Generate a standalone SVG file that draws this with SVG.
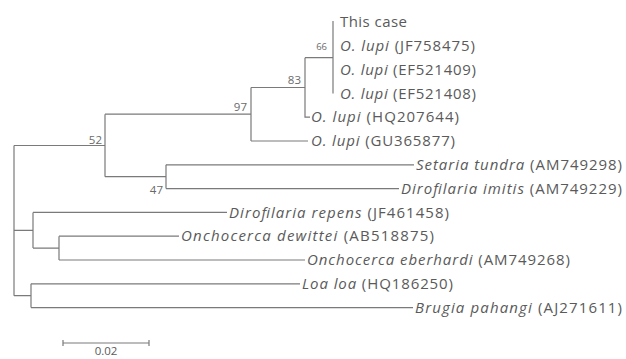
<svg xmlns="http://www.w3.org/2000/svg" width="626" height="359" viewBox="0 0 626 359">
  <style>
    .br { fill: none; stroke: #7a7a7a; stroke-width: 1.2; }
    .tip { font-family: "Open Sans", "Liberation Sans", Arial, sans-serif; font-size: 15px; fill: #5a5a5a; }
    .sp { font-style: italic; }
    .bs { font-family: "Open Sans", "Liberation Sans", Arial, sans-serif; font-size: 11.5px; fill: #6a6a6a; text-anchor: end; }
    .sc { font-family: "Open Sans", "Liberation Sans", Arial, sans-serif; font-size: 11.5px; fill: #5a5a5a; text-anchor: middle; }
  </style>

  <!-- tree branches (rectangular cladogram) -->
  <g id="connectors" class="br">
    <!-- root -->
    <path d="M14,145.5 V295.7"/>
    <!-- node 52 -->
    <path d="M14,145.5 H105 M105,114.2 V176.7"/>
    <!-- node 97 -->
    <path d="M105,114.2 H251 M251,87.5 V141"/>
    <!-- node 83 -->
    <path d="M251,87.5 H305 M305,57.7 V117.2 H310"/>
    <!-- node 66 -->
    <path d="M305,57.7 H333 M333,21 V93.4"/>
    <!-- GU365877 -->
    <path d="M251,141 H308"/>
    <!-- node 47 -->
    <path d="M105,176.7 H166 M166,164.8 V188.6"/>
    <path d="M166,164.8 H414"/>
    <path d="M166,188.6 H399"/>
    <!-- Dirofilaria repens / Onchocerca clade -->
    <path d="M14,230.3 H33 M33,212.4 V248.1"/>
    <path d="M33,212.4 H227"/>
    <path d="M33,248.1 H59 M59,236.2 V260"/>
    <path d="M59,236.2 H179"/>
    <path d="M59,260 H305"/>
    <!-- Loa / Brugia clade -->
    <path d="M14,295.7 H31 M31,283.8 V307.6"/>
    <path d="M31,283.8 H300"/>
    <path d="M31,307.6 H413"/>
  </g>

  <!-- bootstrap values -->
  <g id="bootstrap">
    <text class="bs" x="327" y="50" style="font-size:9.5px">66</text>
    <text class="bs" x="301" y="84">83</text>
    <text class="bs" x="247" y="111">97</text>
    <text class="bs" x="102" y="144">52</text>
    <text class="bs" x="163" y="194">47</text>
  </g>

  <!-- taxa -->
  <g id="tip-this-case"><text class="tip" x="340" y="27" textLength="67">This case</text></g>
  <g id="tip-JF758475"><text class="tip" x="340" y="51" textLength="135"><tspan class="sp">O. lupi</tspan> (JF758475)</text></g>
  <g id="tip-EF521409"><text class="tip" x="340" y="74.5" textLength="136"><tspan class="sp">O. lupi</tspan> (EF521409)</text></g>
  <g id="tip-EF521408"><text class="tip" x="340" y="98.5" textLength="136"><tspan class="sp">O. lupi</tspan> (EF521408)</text></g>
  <g id="tip-HQ207644"><text class="tip" x="311" y="122" textLength="148"><tspan class="sp">O. lupi</tspan> (HQ207644)</text></g>
  <g id="tip-GU365877"><text class="tip" x="311" y="146" textLength="144"><tspan class="sp">O. lupi</tspan> (GU365877)</text></g>
  <g id="tip-AM749298"><text class="tip" x="416" y="170" textLength="206"><tspan class="sp">Setaria tundra</tspan> (AM749298)</text></g>
  <g id="tip-AM749229"><text class="tip" x="401" y="193.5" textLength="221"><tspan class="sp">Dirofilaria imitis</tspan> (AM749229)</text></g>
  <g id="tip-JF461458"><text class="tip" x="229" y="217.5" textLength="220"><tspan class="sp">Dirofilaria repens</tspan> (JF461458)</text></g>
  <g id="tip-AB518875"><text class="tip" x="181" y="241" textLength="253"><tspan class="sp">Onchocerca dewittei</tspan> (AB518875)</text></g>
  <g id="tip-AM749268"><text class="tip" x="307" y="265" textLength="263"><tspan class="sp">Onchocerca eberhardi</tspan> (AM749268)</text></g>
  <g id="tip-HQ186250"><text class="tip" x="302" y="288.5" textLength="151"><tspan class="sp">Loa loa</tspan> (HQ186250)</text></g>
  <g id="tip-AJ271611"><text class="tip" x="415" y="312.5" textLength="207"><tspan class="sp">Brugia pahangi</tspan> (AJ271611)</text></g>

  <!-- scale bar -->
  <g id="scale-bar">
    <path class="br" d="M63,343 H149 M63,340 V346 M149,340 V346"/>
    <text class="sc" x="106" y="355">0.02</text>
  </g>
</svg>
